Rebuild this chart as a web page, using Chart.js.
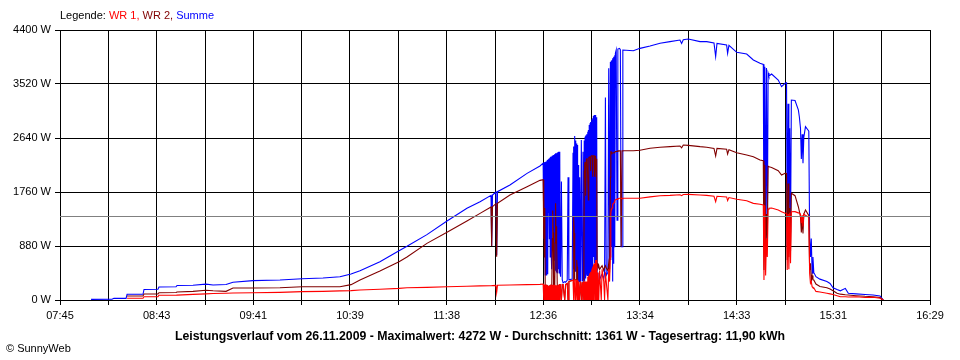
<!DOCTYPE html>
<html>
<head>
<meta charset="utf-8">
<script src="https://cdn.jsdelivr.net/npm/chart.js@4"></script>
<style>
  html, body { margin: 0; padding: 0; background: #fff; }
  canvas { display: block; }
</style>
</head>
<body>
<canvas id="chart" width="960" height="360"></canvas>
<script>
// Messzeitpunkte (hh:mm:ss)
const zeit = [
  // Vormittag
  "08:03:42", "08:16:18", "08:17:30", "08:24:48", "08:25:24", "08:35:00", "08:35:36", "08:44:00", "08:44:36", "08:54:54",
  "08:55:30", "09:05:06", "09:12:54", "09:17:12", "09:25:00", "09:29:12", "09:41:12", "09:57:30", "10:10:48", "10:23:24",
  "10:33:36", "10:40:18", "10:45:42", "10:57:42", "11:09:12", "11:14:00", "11:26:00", "11:38:06", "11:50:06", "11:58:00",
  "12:04:36", "12:05:00", "12:05:30", "12:07:36", "12:08:00", "12:08:30", "12:16:00", "12:26:18", "12:34:06",
  // Wolken 12:36 - 12:46
  "12:36:00", "12:36:15", "12:36:30", "12:36:45", "12:37:00", "12:37:15", "12:37:30", "12:37:45", "12:38:00", "12:38:15",
  "12:38:30", "12:38:45", "12:39:00", "12:39:15", "12:39:30", "12:39:45", "12:40:00", "12:40:15", "12:40:30", "12:40:45",
  "12:41:00", "12:41:15", "12:41:30", "12:41:45", "12:42:00", "12:42:15", "12:42:30", "12:42:45", "12:43:00", "12:43:15",
  "12:43:30", "12:43:45", "12:44:00", "12:44:15", "12:44:30", "12:44:45", "12:45:00", "12:45:15", "12:45:30", "12:45:45",
  "12:46:00", "12:46:15", "12:46:30",
  // 12:47 - 13:00
  "12:47:00", "12:47:30", "12:48:00", "12:49:00", "12:49:30", "12:50:30", "12:51:00", "12:51:30", "12:53:30", "12:54:00",
  "12:54:15", "12:54:30", "12:54:45", "12:55:00", "12:55:15", "12:55:30", "12:55:45", "12:56:00", "12:56:15", "12:56:30",
  "12:56:45", "12:57:00", "12:57:15", "12:57:30", "12:57:45", "12:58:00", "12:58:30", "12:59:00", "12:59:30", "13:00:00",
  "13:00:30",
  // 13:00 - 13:08
  "13:00:45", "13:01:00", "13:01:15", "13:01:30", "13:01:45", "13:02:00", "13:02:15", "13:02:30", "13:02:45", "13:03:00",
  "13:03:15", "13:03:30", "13:03:45", "13:04:00", "13:04:15", "13:04:30", "13:04:45", "13:05:00", "13:05:15", "13:05:30",
  "13:05:45", "13:06:00", "13:06:15", "13:06:30", "13:06:45", "13:07:00", "13:07:15", "13:07:30", "13:07:45", "13:08:00",
  "13:08:15", "13:08:30",
  // 13:09 - 13:16
  "13:09:00", "13:09:30", "13:10:00", "13:11:00", "13:11:30", "13:12:30", "13:13:00", "13:13:30", "13:14:00", "13:15:00",
  "13:15:30", "13:16:00",
  // 13:16 - 13:24
  "13:16:30", "13:16:45", "13:17:00", "13:17:15", "13:17:30", "13:17:45", "13:18:00", "13:18:15", "13:18:30", "13:18:45",
  "13:19:00", "13:19:15", "13:19:30",
  "13:20:00", "13:20:30", "13:21:00", "13:22:00", "13:22:30", "13:23:00", "13:23:30", "13:24:00",
  // Nachmittag
  "13:30:18", "13:34:18", "13:40:24", "13:46:24", "13:52:24", "13:58:24", "13:59:24", "14:00:24", "14:03:24", "14:10:30",
  "14:14:30", "14:18:54", "14:19:54", "14:20:42", "14:26:30", "14:27:06", "14:27:54", "14:32:36", "14:38:36", "14:42:36",
  "14:46:36", "14:48:36", "14:49:00", "14:49:30", "14:50:00", "14:50:30", "14:51:00", "14:51:30", "14:52:00", "14:53:36",
  "14:57:36", "14:59:36", "15:01:42", "15:02:36", "15:03:00", "15:03:30", "15:04:00", "15:04:30", "15:05:00", "15:05:30",
  "15:07:42", "15:09:42", "15:10:18", "15:11:00", "15:11:30", "15:12:00", "15:12:30", "15:13:00", "15:14:00", "15:15:30",
  "15:16:00", "15:16:30", "15:17:00", "15:17:30", "15:18:00", "15:18:30", "15:19:00", "15:20:18", "15:22:42", "15:26:54",
  "15:28:48", "15:30:36", "15:33:00", "15:35:00", "15:38:00", "15:39:48", "15:44:30", "15:49:54", "15:54:42", "15:58:54",
  "16:00:54"
];

// WR 1 in W
const wr1 = [
  null, null, null, null, 28, 28, 54, 54, 77, 78,
  80, 92, 100, 105, 110, 115, 119, 125, 136, 140,
  148, 152, 163, 175, 190, 200, 206, 215, 223, 230,
  233, 233, 235, 238, 120, 240, 245, 250, 255,

  260, 0, 250, 0, 250, 0, 250, 0, 250, 0,
  240, 0, 220, 0, 230, 0, 240, 0, 250, 0,
  250, 0, 250, 0, 250, 0, 250, 0, 250, 0,
  240, 0, 240, 0, 240, 0, 240, 0, 250, 0,
  250, 250, 250,

  0, 250, 250, 0, 250, 270, 0, 300, 320, 320,
  0, 320, 330, 330, 0, 330, 0, 330, 330, 0,
  330, 0, 300, 300, 0, 0, 300, 0, 290, 0,
  300,

  0, 300, 0, 300, 0, 300, 0, 300, 0, 380,
  0, 400, 0, 420, 430, 0, 460, 0, 480, 500,
  0, 520, 550, 0, 580, 600, 0, 620, 650, 0,
  650, 0,

  450, 0, 480, 0, 500, 300, 0, 450, 300, 0,
  500, 300,

  700, 1400, 1470, 1480, 1500, 1520, 1560, 1570, 1575, 1590,
  1600, 1620, 1630,
  1640, 1640, 1650, 1657, 1657, 1657, 1650, 1657,

  1657, 1657, 1680, 1700, 1705, 1715, 1700, 1720, 1722, 1710,
  1705, 1690, 1602, 1690, 1680, 1620, 1670, 1641, 1618, 1575,
  1560, 1548, 326, 1540, 400, 1000, 700, 1480, 1494, 1500,
  1467, 1440, 1413, 1413, 489, 1400, 500, 1420, 600, 1439,
  1440, 1420, 1413, 1400, 1250, 1380, 1200, 1400, 1380, 1357,
  1357, 435, 272, 300, 217, 200, 200, 140, 130, 109,
  100, 90, 70, 54, 54, 50, 54, 40, 45, 30,
  0
];

// WR 2 in W
const wr2 = [
  null, null, null, null, 65, 65, 98, 100, 119, 122,
  130, 141, 160, 150, 141, 196, 196, 200, 217, 217,
  217, 250, 326, 472, 625, 700, 923, 1103, 1287, 1412,
  1515, 880, 1521, 1570, 706, 1575, 1711, 1847, 1950,

  1960, 1000, 1800, 700, 1500, 200, 250, 0, 250, 0,
  240, 0, 220, 0, 230, 0, 240, 0, 250, 0,
  250, 0, 1000, 1460, 1100, 0, 250, 0, 250, 930,
  1575, 930, 1200, 930, 240, 0, 240, 0, 250, 0,
  250, 250, 250,

  0, 250, 250, 0, 250, 270, 0, 300, 320, 320,
  320, 1360, 1090, 330, 330, 330, 330, 330, 650, 540,
  330, 0, 300, 300, 0, 0, 300, 0, 290, 0,
  300,

  2100, 2200, 2250, 2250, 1700, 2280, 2300, 2300, 2300, 2300,
  1630, 2320, 2330, 2330, 2330, 2100, 2330, 2350, 2350, 2350,
  2010, 2350, 2350, 2350, 2350, 2010, 2350, 2350, 2200, 2010,
  2300, 600,

  520, 560, 500, 540, 560, 480, 530, 560, 520, 480,
  600, 450,

  2000, 2417, 2417, 2400, 2390, 2390, 2390, 2400, 2400, 2400,
  2400, 2410, 2420,
  2420, 2420, 2430, 2430, 2430, 869, 2430, 2433,

  2433, 2440, 2472, 2490, 2499, 2510, 2480, 2526, 2520, 2499,
  2490, 2470, 2347, 2470, 2456, 2380, 2450, 2401, 2363, 2336,
  2281, 2270, 489, 2200, 700, 1400, 1000, 2180, 2173, 2160,
  2108, 2037, 2064, 2060, 652, 1900, 700, 1500, 800, 1738,
  1700, 1520, 1450, 1350, 1100, 1300, 1086, 1400, 1467, 1400,
  1380, 489, 600, 300, 400, 330, 326, 260, 220, 200,
  180, 150, 110, 95, 85, 81, 70, 60, 54, 40,
  0
];

// Summe in W
const summe = [
  11, 12, 27, 27, 93, 93, 171, 175, 212, 215,
  236, 240, 258, 245, 252, 290, 315, 326, 347, 358,
  380, 424, 478, 625, 804, 875, 1065, 1287, 1494, 1602,
  1705, 880, 1711, 1760, 733, 1765, 1874, 2064, 2184,

  2230, 1200, 2240, 978, 2250, 407, 2254, 410, 2260, 600,
  2281, 420, 2290, 1418, 2300, 1000, 2320, 700, 2336, 870,
  2340, 500, 2350, 1400, 2360, 652, 2363, 650, 2380, 489,
  2390, 480, 2390, 460, 2400, 435, 2410, 500, 2417, 440,
  2417, 435, 380,

  1930, 330, 280, 300, 290, 320, 2000, 330, 340, 2400,
  500, 2500, 700, 2672, 470, 2600, 500, 2550, 330, 2526,
  326, 2200, 300, 1900, 300, 2000, 300, 2607, 310, 2417,
  330,

  2600, 300, 2661, 350, 2680, 420, 2700, 400, 2740, 435,
  2770, 330, 2852, 350, 2880, 435, 2900, 430, 2940, 650,
  2960, 500, 3000, 700, 3015, 600, 3015, 500, 2990, 650,
  2980, 440,

  330, 300, 330, 400, 420, 350, 430, 3300, 400, 450,
  3775, 500,

  3880, 650, 3900, 870, 3910, 300, 3940, 600, 3966, 870,
  3990, 900, 4020,
  4074, 1300, 4090, 4101, 4080, 869, 869, 4074,

  4063, 4101, 4139, 4183, 4210, 4237, 4180, 4240, 4253, 4210,
  4210, 4190, 3966, 4180, 4156, 4020, 4150, 4036, 4009, 3911,
  3857, 3840, 869, 3800, 900, 3780, 1000, 3700, 3650, 3683,
  3585, 3476, 3531, 3541, 869, 3200, 900, 2800, 1100, 3259,
  3250, 3100, 2987, 2800, 2300, 2700, 2230, 2650, 2824, 2770,
  2750, 1032, 700, 1000, 435, 700, 450, 380, 340, 300,
  270, 200, 170, 150, 190, 110, 100, 90, 81, 65,
  0
];

const durchschnitt = 1361; // W
const zeitLabels = ["07:45", "08:43", "09:41", "10:39", "11:38", "12:36", "13:34", "14:33", "15:31", "16:29"];
const yMax = 4400;
const yStep = 880;

const titel = "Leistungsverlauf vom 26.11.2009 - Maximalwert: 4272 W - Durchschnitt: 1361 W - Tagesertrag: 11,90 kWh";
const legende = [["Legende: ", "#000000"], ["WR 1, ", "#ff0000"], ["WR 2, ", "#800000"], ["Summe", "#0000ff"]];

function minuten(s) {
  const p = s.split(":").map(Number);
  return p[0] * 60 + p[1] + (p[2] || 0) / 60;
}

const xMin = minuten(zeitLabels[0]);
const xMax = minuten(zeitLabels[zeitLabels.length - 1]);

function punkte(werte) {
  return zeit.map((z, i) => ({ x: minuten(z), y: werte[i] }));
}

const schrift = "Liberation Sans";

const beschriftung = {
  id: "beschriftung",
  afterDraw(chart) {
    const c = chart.ctx;
    c.save();
    c.textBaseline = "middle";
    c.textAlign = "left";
    c.font = "11px '" + schrift + "'";
    let x = 60;
    legende.forEach(([text, farbe]) => {
      c.fillStyle = farbe;
      c.fillText(text, x, 16);
      x += c.measureText(text).width;
    });
    c.fillStyle = "#000";
    c.fillText("\u00A9 SunnyWeb", 6, 349);
    c.font = "bold 12.3px '" + schrift + "'";
    c.textAlign = "center";
    c.fillText(titel, 480, 337);
    c.restore();
  }
};

new Chart(document.getElementById("chart"), {
  type: "line",
  data: {
    datasets: [
      {
        label: "Durchschnitt",
        data: [{ x: xMin, y: durchschnitt }, { x: xMax, y: durchschnitt }],
        borderColor: "#808080",
        order: -1,
      },
      { label: "WR 1", data: punkte(wr1), borderColor: "#ff0000" },
      { label: "WR 2", data: punkte(wr2), borderColor: "#800000" },
      { label: "Summe", data: punkte(summe), borderColor: "#0000ff" },
    ],
  },
  options: {
    responsive: false,
    animation: false,
    devicePixelRatio: 1,
    parsing: false,
    normalized: true,
    layout: { padding: { top: 30, right: 30, left: 0, bottom: 0 } },
    elements: {
      point: { radius: 0 },
      line: { borderWidth: 1.1, tension: 0, fill: false },
    },
    plugins: { legend: { display: false }, tooltip: { enabled: false } },
    scales: {
      x: {
        type: "linear",
        min: xMin,
        max: xMax,
        grid: { color: "#000", tickLength: 5 },
        border: { color: "#000" },
        afterBuildTicks(axis) {
          const n = (zeitLabels.length - 1) * 2;
          axis.ticks = Array.from({ length: n + 1 }, (_, i) => ({ value: xMin + (xMax - xMin) * i / n }));
        },
        afterFit(axis) { axis.height = 60; },
        ticks: {
          color: "#000",
          font: { family: schrift, size: 11 },
          maxRotation: 0,
          autoSkip: false,
          padding: 4,
          callback: (v, i) => (i % 2 === 0 ? zeitLabels[i / 2] : ""),
        },
      },
      y: {
        min: 0,
        max: yMax,
        grid: { color: "#000", tickLength: 5 },
        border: { color: "#000" },
        afterFit(axis) { axis.width = 60; },
        ticks: {
          stepSize: yStep,
          color: "#000",
          font: { family: schrift, size: 11 },
          padding: 4,
          callback: (v) => v + " W",
        },
      },
    },
  },
  plugins: [beschriftung],
});
</script>
</body>
</html>
